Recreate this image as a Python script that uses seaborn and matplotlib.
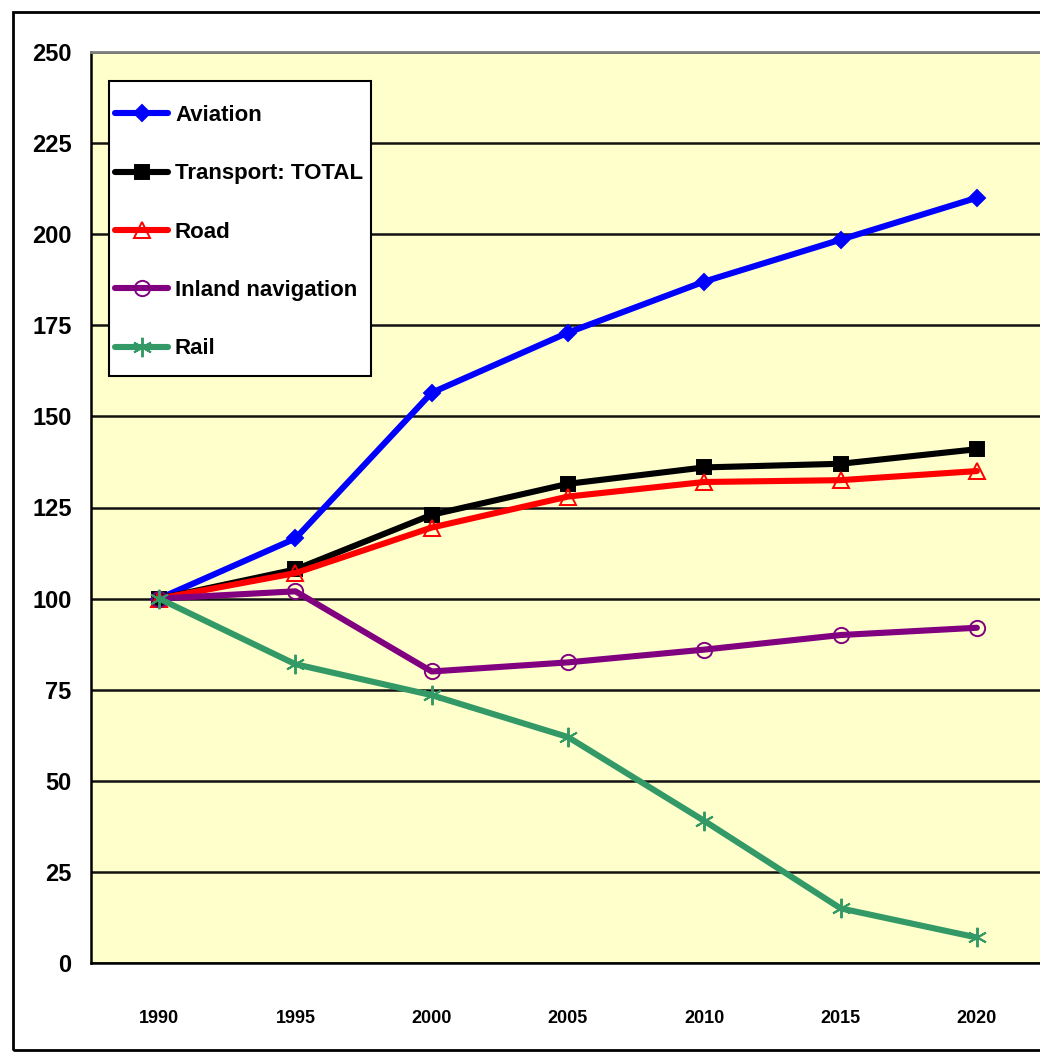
"""Transport emissions index (1990 = 100), Excel-style line chart."""

import matplotlib

matplotlib.use("Agg")
import matplotlib.pyplot as plt
import numpy as np
import pandas as pd
import seaborn as sns
from matplotlib.patches import Rectangle

years = ["1990", "1995", "2000", "2005", "2010", "2015", "2020"]
aviation = [100, 116.5, 156.5, 173, 187, 198.5, 210]
total = [100, 108, 123, 131.5, 136, 137, 141]
road = [100, 107, 119.5, 128, 132, 132.5, 135]
inland = [100, 102, 80, 82.5, 86, 90, 92]
rail = [100, 82, 73.5, 62, 39, 15, 7]

series = ["Aviation", "Transport: TOTAL", "Road", "Inland navigation", "Rail"]
values = [aviation, total, road, inland, rail]

sns.set_theme(style="white")
plt.rcParams["font.family"] = ["Liberation Sans Narrow", "Liberation Sans", "DejaVu Sans"]
plt.rcParams["text.color"] = "black"
plt.rcParams["xtick.color"] = "black"
plt.rcParams["ytick.color"] = "black"

df = pd.DataFrame(
    {
        "series": np.repeat(series, len(years)),
        "year": years * len(series),
        "pos": list(range(len(years))) * len(series),
        "value": np.concatenate(values),
    }
)

styles = {
    "Aviation": dict(color="#0000FF", marker="D", ms=8.5, mfc="#0000FF", mec="#0000FF"),
    "Transport: TOTAL": dict(color="#000000", marker="s", ms=10.5, mfc="#000000", mec="#000000"),
    "Road": dict(color="#FF0000", marker="^", ms=11, mfc="none", mec="#FF0000"),
    "Inland navigation": dict(color="#800080", marker="o", ms=11, mfc="none", mec="#800080"),
    "Rail": dict(color="#339966", marker=(6, 2, 0), ms=14, mfc="#339966", mec="#339966"),
}

fig = plt.figure(figsize=(10.4, 10.52), dpi=100)
ax = fig.add_axes([91 / 1040, 1 - 963 / 1052, 954 / 1040, 911 / 1052])
ax.set_facecolor("#FFFFCC")

for name in series:
    sub = df[df["series"] == name]
    st = styles[name]
    sns.lineplot(
        data=sub,
        x="pos",
        y="value",
        ax=ax,
        color=st["color"],
        lw=4.4,
        marker=st["marker"],
        markersize=st["ms"],
        markerfacecolor=st["mfc"],
        markeredgecolor=st["mec"],
        markeredgewidth=1.4,
        label=name,
        zorder=3,
    )

ax.set_xlim(-0.5, len(years) - 0.5)
ax.set_ylim(0, 250)
ax.set_yticks(np.arange(0, 251, 25))
ax.set_xticks(range(len(years)), years)
ax.set_xticks(np.arange(-0.5, len(years), 1), minor=True)
ax.set_xlabel("")
ax.set_ylabel("")

ax.yaxis.grid(True, color="#111111", lw=1.8, zorder=1)
ax.xaxis.grid(False)
ax.set_axisbelow(True)

for s in ["left", "bottom"]:
    ax.spines[s].set_color("black")
    ax.spines[s].set_linewidth(1.8)
ax.spines["top"].set_color("#808080")
ax.spines["top"].set_linewidth(2)
ax.spines["right"].set_visible(False)

ax.tick_params(axis="y", direction="out", length=6, width=1.5, color="black",
               labelcolor="black", pad=8, labelsize=17)
ax.tick_params(axis="x", which="major", length=0, pad=34, labelsize=13,
               labelcolor="black")
ax.tick_params(axis="x", which="minor", direction="out", length=10, width=1.5,
               color="black")
for lbl in ax.get_xticklabels() + ax.get_yticklabels():
    lbl.set_fontweight("bold")

# legend box drawn separately so its padding can differ per side
ax.add_patch(
    Rectangle((18 / 954, 587 / 911), 262 / 954, 295 / 911, transform=ax.transAxes,
              facecolor="white", edgecolor="black", lw=1.5, zorder=4)
)
leg = ax.legend(
    loc="upper left",
    bbox_to_anchor=(24 / 954, 858 / 911),
    borderaxespad=0,
    fontsize=16,
    frameon=False,
    handlelength=2.4,
    handletextpad=0.3,
    labelspacing=1.68,
    borderpad=0,
)
leg.set_zorder(5)
for t in leg.get_texts():
    t.set_fontweight("bold")
    t.set_color("black")

# outer chart frame (cut off at the right edge, like the reference)
fig.patches.append(
    Rectangle((13 / 1040, 1 - 1050 / 1052), 1.1, (1050 - 12) / 1052,
              transform=fig.transFigure, fill=False, edgecolor="black", lw=2)
)

fig.savefig("out.png", dpi=100)
plt.close(fig)
